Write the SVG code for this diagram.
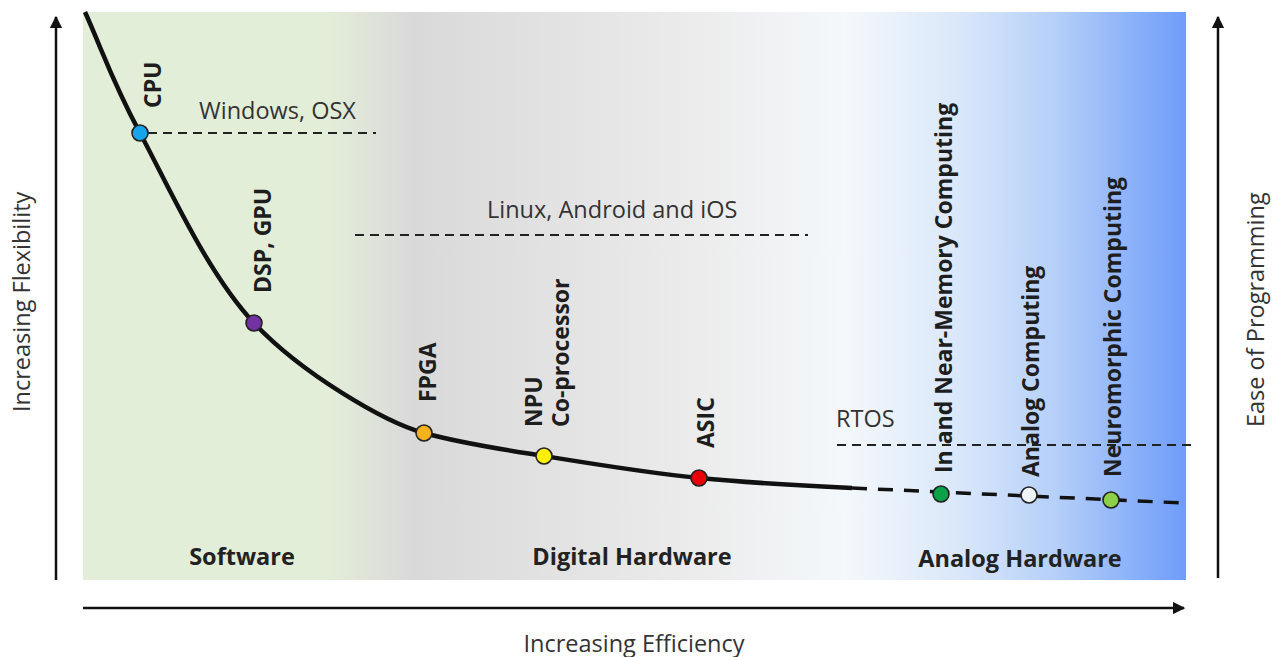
<svg xmlns="http://www.w3.org/2000/svg" width="1276" height="657" viewBox="0 0 1276 657">
<defs>
<linearGradient id="bg" x1="83" y1="0" x2="1186" y2="0" gradientUnits="userSpaceOnUse">
<stop offset="0" stop-color="#e3eed9"/>
<stop offset="0.22" stop-color="#e3eed9"/>
<stop offset="0.30" stop-color="#d9d9d9"/>
<stop offset="0.56" stop-color="#ececec"/>
<stop offset="0.69" stop-color="#f4f8fb"/>
<stop offset="0.79" stop-color="#dbe8fa"/>
<stop offset="0.88" stop-color="#b6d0f9"/>
<stop offset="1" stop-color="#6e9cf9"/>
</linearGradient>
<marker id="arr" viewBox="0 0 10 10" refX="9" refY="5" markerWidth="5" markerHeight="5" markerUnits="strokeWidth" orient="auto">
<path d="M0,0 L10,5 L0,10 z" fill="#111"/>
</marker>
<style>
.ax{stroke:#111;stroke-width:2.5;fill:none}
.dash{stroke:#222;stroke-width:2;stroke-dasharray:9 6;fill:none}
.lbl{font-family:"Open Sans","Liberation Sans",sans-serif;font-weight:bold;font-size:23px;fill:#1e1e1e}
.reg{font-family:"Open Sans","Liberation Sans",sans-serif;font-size:23.5px;fill:#333}
.zone{font-family:"Open Sans","Liberation Sans",sans-serif;font-weight:bold;font-size:23.5px;fill:#222;text-anchor:middle}
.dot{stroke:#222;stroke-width:1.6}
</style>
</defs>
<rect x="83" y="12" width="1103" height="568" fill="url(#bg)"/>
<g id="axes">
<line class="ax" x1="56" y1="580" x2="56" y2="17" marker-end="url(#arr)"/>
<line class="ax" x1="1218" y1="578" x2="1218" y2="17" marker-end="url(#arr)"/>
<line class="ax" x1="83" y1="608" x2="1184" y2="608" marker-end="url(#arr)"/>
<text class="reg" transform="translate(30,412) rotate(-90)">Increasing Flexibility</text>
<text class="reg" transform="translate(1264,427) rotate(-90)">Ease of Programming</text>
<text class="reg" x="634" y="652" text-anchor="middle">Increasing Efficiency</text>
</g>
<g id="os-levels">
<line class="dash" x1="148" y1="133" x2="376" y2="133"/>
<text class="reg" x="199" y="119">Windows, OSX</text>
<line class="dash" x1="355" y1="235" x2="808" y2="235"/>
<text class="reg" x="487" y="218">Linux, Android and iOS</text>
<line class="dash" x1="837" y1="445" x2="1191" y2="445"/>
<text class="reg" x="836" y="427">RTOS</text>
</g>
<g id="connectors">
<path d="M85,12 C103,52 112,81 140,133 C168,185 207,273 254,323 C301,373 384,422 424,433 C464,444 504,449.6 544,456 C590,463.4 648,473 699,478 C750,483 810,486 852,488" stroke="#111" stroke-width="4.5" fill="none"/>
<path d="M852,488 L1183,503" stroke="#111" stroke-width="3.5" stroke-dasharray="15 11" fill="none"/>
</g>
<g id="zones">
<text class="zone" x="242" y="565">Software</text>
<text class="zone" x="632" y="565">Digital Hardware</text>
<text class="zone" x="1020" y="567">Analog Hardware</text>
</g>
<g id="cpu"><circle class="dot" cx="140" cy="133" r="8" fill="#18a4ea"/><text class="lbl" transform="translate(161,108) rotate(-90)">CPU</text></g>
<g id="dsp-gpu"><circle class="dot" cx="254" cy="323" r="8" fill="#7232a2"/><text class="lbl" transform="translate(271,293) rotate(-90)">DSP, GPU</text></g>
<g id="fpga"><circle class="dot" cx="424" cy="433" r="8" fill="#f6b21c"/><text class="lbl" transform="translate(436,402) rotate(-90)">FPGA</text></g>
<g id="npu"><circle class="dot" cx="544" cy="456" r="8" fill="#fff000"/><text class="lbl" transform="translate(542,427) rotate(-90)">NPU</text><text class="lbl" transform="translate(569,427) rotate(-90)">Co-processor</text></g>
<g id="asic"><circle class="dot" cx="699" cy="478" r="8" fill="#ea0008"/><text class="lbl" transform="translate(714,448) rotate(-90)">ASIC</text></g>
<g id="in-memory"><circle class="dot" cx="941" cy="494" r="8" fill="#0ba24a"/><text class="lbl" transform="translate(952,473) rotate(-90)">In and Near-Memory Computing</text></g>
<g id="analog"><circle class="dot" cx="1029" cy="495" r="8" fill="#eef4f8"/><text class="lbl" transform="translate(1039,477) rotate(-90)">Analog Computing</text></g>
<g id="neuromorphic"><circle class="dot" cx="1111" cy="500" r="8" fill="#8dd048"/><text class="lbl" transform="translate(1121,477) rotate(-90)">Neuromorphic Computing</text></g>
</svg>
